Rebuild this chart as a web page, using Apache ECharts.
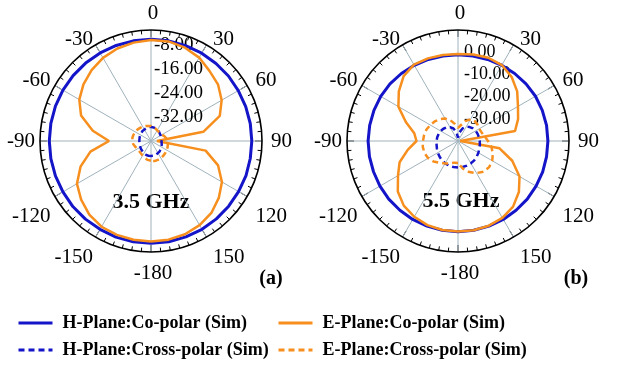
<!DOCTYPE html>
<html><head><meta charset="utf-8">
<script src="https://cdn.jsdelivr.net/npm/echarts@6/dist/echarts.min.js"></script>
<style>html,body{margin:0;padding:0;background:#fff}#c{width:617px;height:370px}</style>
</head><body><div id="c"></div>
<script>
// angles (deg, 0 = top, clockwise), 10 deg steps
const ANGLES = [-180,-170,-160,-150,-140,-130,-120,-110,-100,-90,-80,-70,-60,-50,-40,-30,-20,-10,0,10,20,30,40,50,60,70,80,90,100,110,120,130,140,150,160,170,180];

// (a) 3.5 GHz  (dB)
const A_H_CO = [-5.9,-5.9,-5.9,-6.0,-6.0,-6.0,-6.1,-6.1,-6.1,-6.1,-6.1,-6.1,-6.1,-6.1,-6.1,-6.1,-6.1,-6.1,-6.1,-6.1,-6.2,-6.2,-6.3,-6.3,-6.4,-6.4,-6.4,-6.4,-6.4,-6.3,-6.3,-6.2,-6.1,-6.0,-6.0,-5.9,-5.9];
const A_E_CO = [-6.5,-6.6,-6.7,-7.0,-8.0,-9.6,-11.5,-15.0,-19.5,-26.0,-20.3,-15.2,-12.4,-10.6,-9.2,-8.0,-7.2,-6.7,-6.3,-6.3,-6.9,-7.9,-9.6,-10.8,-12.8,-15.6,-22.3,-38.0,-21.5,-16.2,-12.7,-10.5,-8.7,-7.6,-6.9,-6.6,-6.5];
const A_H_X = [-35.0,-35.0,-35.1,-35.3,-35.5,-35.7,-35.9,-36.0,-36.1,-36.1,-36.1,-36.0,-35.9,-35.8,-35.6,-35.5,-35.4,-35.3,-35.3,-35.4,-35.5,-35.7,-35.9,-36.1,-36.3,-36.4,-36.5,-36.5,-36.4,-36.2,-36.0,-35.8,-35.5,-35.3,-35.1,-35.0,-35.0];
const A_E_X = [-33.4,-33.6,-34.0,-34.4,-34.7,-34.8,-34.8,-34.4,-34.0,-33.8,-33.7,-33.8,-34.0,-34.1,-34.3,-34.5,-34.7,-34.9,-35.0,-35.3,-35.6,-35.8,-36.0,-36.0,-35.8,-35.3,-34.8,-34.5,-34.3,-34.1,-34.0,-33.8,-33.6,-33.4,-33.3,-33.2,-33.4];

// (b) 5.5 GHz  (dB)
const B_H_CO = [0.85,0.85,0.8,0.8,0.7,0.7,0.6,0.5,0.5,0.5,0.4,0.3,0.2,0.0,-0.3,-0.6,-0.9,-1.1,-1.2,-1.1,-0.9,-0.6,-0.3,0.0,0.3,0.4,0.5,0.5,0.5,0.6,0.6,0.7,0.7,0.8,0.8,0.85,0.85];
const B_E_CO = [0.8,0.7,0.3,-0.6,-2.0,-4.6,-8.8,-12.0,-17.0,-21.3,-20.0,-15.0,-9.0,-5.2,-1.9,-0.3,-0.4,-0.7,-0.8,-0.4,-0.1,-0.5,-2.4,-5.2,-8.8,-11.2,-13.9,-39.0,-21.0,-14.0,-8.0,-4.2,-1.4,0.0,0.6,0.8,0.8];
const B_H_X = [-28.1,-28.1,-28.2,-28.4,-28.7,-29.1,-29.5,-29.9,-30.2,-30.3,-30.5,-30.7,-31.0,-31.4,-32.0,-32.8,-34.0,-36.0,-38.5,-36.0,-34.0,-32.6,-31.8,-31.2,-30.8,-30.6,-30.4,-30.2,-30.0,-29.8,-29.4,-29.0,-28.6,-28.4,-28.2,-28.1,-28.1];
const B_E_X = [-30.1,-30.1,-29.2,-28.3,-27.2,-25.6,-24.5,-24.0,-23.9,-24.2,-24.5,-24.9,-25.6,-26.3,-27.2,-28.3,-30.1,-32.3,-34.1,-32.8,-30.5,-28.7,-28.3,-28.5,-29.0,-28.7,-27.8,-26.5,-24.7,-23.3,-22.2,-21.7,-22.0,-23.3,-25.1,-27.4,-30.1];

const SERIES_NAMES = ['H-Plane:Co-polar (Sim)','E-Plane:Co-polar (Sim)','H-Plane:Cross-polar (Sim)','E-Plane:Cross-polar (Sim)'];
const PANEL_TITLES = ['3.5 GHz','5.5 GHz'];
const PANEL_TAGS = ['(a)','(b)'];
const RADIAL = [{min:-40,max:-3,interval:8},{min:-40,max:10,interval:10}];

const BLUE = '#1414c8', ORANGE = '#f78f1e';
const FONT = 'Liberation Serif';

function toData(vals){ return vals.map((v,i)=>[v, ((ANGLES[i]%360)+360)%360]); }

// per-angle line heights to nudge label glyphs toward the reference placement
function labelStyleKey(v){
  if (v===30 || v===330) return 'a';
  if (v===60 || v===300) return 'b';
  if (v===0) return 'z';
  if (v===90 || v===270) return 'm';
  if (v===120 || v===240) return 'c';
  return 'd';
}
function angleAxis(idx){
  return {
    polarIndex: idx, type:'value', min:0, max:360, interval:30, startAngle:90, clockwise:true,
    axisLine:{show:true, lineStyle:{color:'#000', width:1.6}},
    axisTick:{show:true, inside:true, length:7, lineStyle:{color:'#000', width:1}},
    minorTick:{show:true, splitNumber:6, length:4, lineStyle:{color:'#000', width:1}},
    splitLine:{show:true, lineStyle:{color:'#9fb2bc', width:1}},
    axisLabel:{show:true, margin:5, color:'#000', fontFamily:FONT, fontSize:21, padding:[0,0,0,4],
      rich:{
        a:{fontFamily:FONT, fontSize:21, color:'#000', lineHeight:2},
        b:{fontFamily:FONT, fontSize:21, color:'#000', lineHeight:6},
        z:{fontFamily:FONT, fontSize:21, color:'#000', lineHeight:23},
        m:{fontFamily:FONT, fontSize:21, color:'#000', lineHeight:21},
        c:{fontFamily:FONT, fontSize:21, color:'#000', lineHeight:35},
        d:{fontFamily:FONT, fontSize:21, color:'#000', lineHeight:33}
      },
      formatter:v=> v===360 ? '' : '{' + labelStyleKey(v) + '|' + String(v>=180 ? v-360 : v) + '}'}
  };
}
function radiusAxis(idx){
  const r = RADIAL[idx];
  return {
    polarIndex: idx, type:'value', min:r.min, max:r.max, interval:r.interval,
    axisLine:{show:false}, axisTick:{show:false}, splitLine:{show:false},
    axisLabel:{show:true, showMinLabel:false, showMaxLabel:false, align:'left', margin: idx===0?-3:-6,
      color:'#000', fontFamily:FONT, fontSize: idx===0?19:18, padding: idx===0?[0,0,0,0]:[0,0,5,0],
      formatter:v=>v.toFixed(2)}
  };
}
function mk(name, vals, pi, color, dashed, w){
  return {name, type:'line', coordinateSystem:'polar', polarIndex:pi, data:toData(vals),
    symbol:'none', smooth:false, clip:false, animation:false,
    lineStyle:{color, width:w, type: dashed?[6,4]:'solid'}, itemStyle:{color}};
}
function legendCol(names, left){
  return {data:names, orient:'vertical', left, top:309, itemWidth:34, itemHeight:20, itemGap:9,
    itemStyle:{opacity:0}, lineStyle:{width:3},
    textStyle:{fontFamily:FONT, fontWeight:'bold', fontSize:18, color:'#000', padding:[0,0,0,5]}};
}

const chart = echarts.init(document.getElementById('c'), null, {renderer:'canvas'});
chart.setOption({
  animation:false,
  polar:[{center:[151,141], radius:111},{center:[458,141], radius:111}],
  angleAxis:[angleAxis(0), angleAxis(1)],
  radiusAxis:[radiusAxis(0), radiusAxis(1)],
  legend:[ legendCol([SERIES_NAMES[0],SERIES_NAMES[2]], 12), legendCol([SERIES_NAMES[1],SERIES_NAMES[3]], 272) ],
  graphic:[
    {type:'text', x:151, y:202, style:{text:PANEL_TITLES[0], textAlign:'center', textVerticalAlign:'middle', font:'bold 22px "Liberation Serif"', fill:'#000'}},
    {type:'text', x:461, y:201, style:{text:PANEL_TITLES[1], textAlign:'center', textVerticalAlign:'middle', font:'bold 22px "Liberation Serif"', fill:'#000'}},
    {type:'text', x:271, y:279, style:{text:PANEL_TAGS[0], textAlign:'center', textVerticalAlign:'middle', font:'bold 20px "Liberation Serif"', fill:'#000'}},
    {type:'text', x:576, y:279, style:{text:PANEL_TAGS[1], textAlign:'center', textVerticalAlign:'middle', font:'bold 20px "Liberation Serif"', fill:'#000'}}
  ],
  series:[
    mk(SERIES_NAMES[0], A_H_CO, 0, BLUE, false, 3),
    mk(SERIES_NAMES[1], A_E_CO, 0, ORANGE, false, 2.5),
    mk(SERIES_NAMES[2], A_H_X, 0, BLUE, true, 2.5),
    mk(SERIES_NAMES[3], A_E_X, 0, ORANGE, true, 2.5),
    mk(SERIES_NAMES[0], B_H_CO, 1, BLUE, false, 3),
    mk(SERIES_NAMES[1], B_E_CO, 1, ORANGE, false, 2.5),
    mk(SERIES_NAMES[2], B_H_X, 1, BLUE, true, 2.5),
    mk(SERIES_NAMES[3], B_E_X, 1, ORANGE, true, 2.5)
  ]
});
</script></body></html>
